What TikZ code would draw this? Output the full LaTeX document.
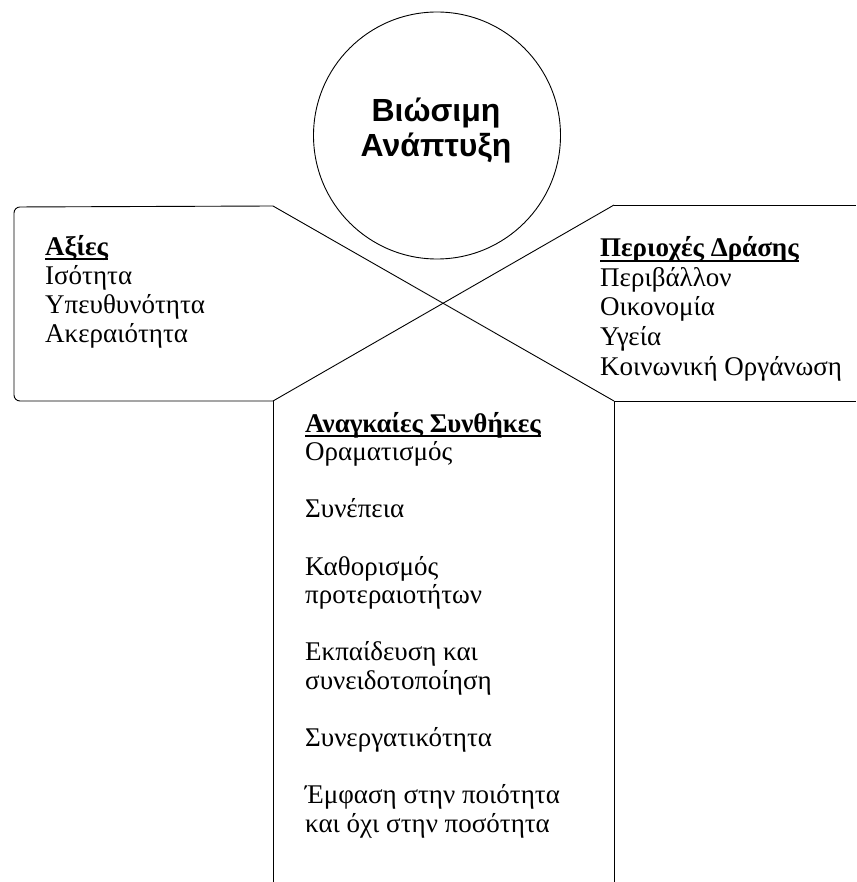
\documentclass[tikz,border=0pt]{standalone}
\usepackage{fontspec}
\setmainfont{Liberation Serif}
\newfontfamily\circfont{Liberation Sans}
\begin{document}
\begin{tikzpicture}[x=1pt,y=-1pt,
  edge/.style={line width=0.9pt, draw=black},
  item/.style={anchor=base west, inner sep=0pt, font=\fontsize{27}{29}\selectfont},
  head/.style={anchor=base west, inner sep=0pt, font=\fontsize{27}{29}\selectfont\bfseries},
  ctitle/.style={anchor=base, inner sep=0pt, font=\circfont\bfseries\fontsize{32}{35}\selectfont},
  uline/.style={line width=1.5pt, draw=black}]
\useasboundingbox (0,0) rectangle (856,882);

% circle
\node[circle, edge, minimum size=247pt, inner sep=0pt] (sd) at (437,135.5) {};
\node[ctitle] (sd1) at (436,122) {Βιώσιμη};
\node[ctitle] (sd2) at (436,157) {Ανάπτυξη};

% frame coordinates
\coordinate (ltop) at (273,206);
\coordinate (rtop) at (614,205);
\coordinate (lbot) at (273,401);
\coordinate (rbot) at (614,401);
\coordinate (lfar) at (14,207);
\coordinate (lfarb) at (14,401);
\coordinate (rfar) at (856,205);
\coordinate (rfarb) at (856,401);
\coordinate (lend) at (273,882);
\coordinate (rend) at (614,882);

\draw[edge, rounded corners=6pt] (ltop) -- (lfar) -- (lfarb) -- (lbot);
\draw[edge] (ltop) -- (rbot);
\draw[edge] (rtop) -- (lbot);
\draw[edge] (rtop) -- (rfar);
\draw[edge] (rbot) -- (rfarb);
\draw[edge] (lbot) -- (lend);
\draw[edge] (rbot) -- (rend);

% left box
\node[head] (ah) at (45,255) {Αξίες};
\draw[uline] ([yshift=-4pt]ah.base west) -- ([yshift=-4pt]ah.base east);
\node[item] (a1) at (45,284) {Ισότητα};
\node[item] (a2) at (45,313) {Υπευθυνότητα};
\node[item] (a3) at (45,342) {Ακεραιότητα};

% right box
\node[head] (ph) at (600,257) {Περιοχές Δράσης};
\draw[uline] ([yshift=-4pt]ph.base west) -- ([yshift=-4pt]ph.base east);
\node[item] (p1) at (600,286) {Περιβάλλον};
\node[item] (p2) at (600,315) {Οικονομία};
\node[item] (p3) at (600,345) {Υγεία};
\node[item] (p4) at (600,375) {Κοινωνική Οργάνωση};

% central box
\node[head] (ch) at (305,432) {Αναγκαίες Συνθήκες};
\draw[uline] ([yshift=-4pt]ch.base west) -- ([yshift=-4pt]ch.base east);
\node[item] (c1) at (305,460.6) {Οραματισμός};
\node[item] (c2) at (305,517.8) {Συνέπεια};
\node[item] (c3) at (305,575) {Καθορισμός};
\node[item] (c4) at (305,603.6) {προτεραιοτήτων};
\node[item] (c5) at (305,660.8) {Εκπαίδευση και};
\node[item] (c6) at (305,689.4) {συνειδοτοποίηση};
\node[item] (c7) at (305,746.6) {Συνεργατικότητα};
\node[item] (c8) at (305,803.8) {Έμφαση στην ποιότητα};
\node[item] (c9) at (305,832.4) {και όχι στην ποσότητα};
\end{tikzpicture}
\end{document}
